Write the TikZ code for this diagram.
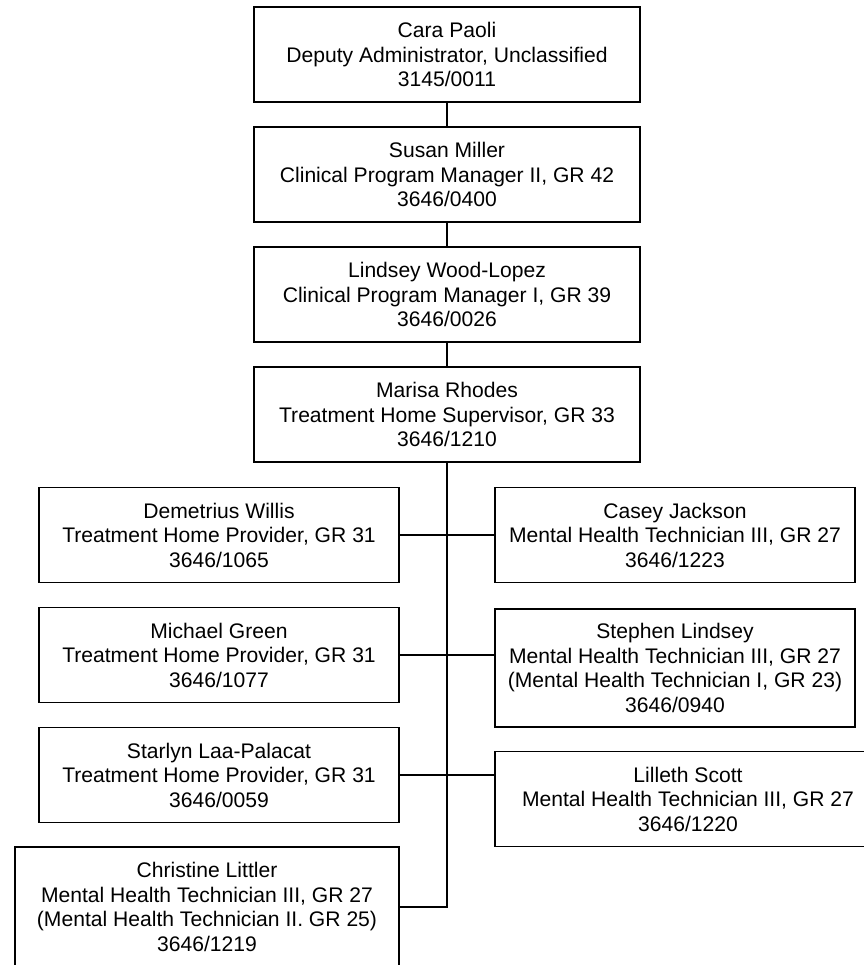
\documentclass[tikz,border=0pt]{standalone}
\usepackage{fontspec}
\setmainfont{Liberation Sans}
\begin{document}
\begin{tikzpicture}[x=1pt, y=-1pt, line join=miter, font=\fontsize{21.1}{24.5}\selectfont,
  post/.style={draw, line width=1.8pt, align=center, inner sep=0pt, minimum height=95pt},
  wide/.style={post, minimum width=386pt},
  half/.style={post, minimum width=360pt},
  link/.style={line width=1.8pt}]
	%%%%%%%%%%%%%%%%%%%%%%%%%%%%%%%%%
	\useasboundingbox (0,0) rectangle (863,965);
	%%%%%%%%%%%%%%%%%%%%%%%%%%%%%%%%%
	\node[wide] (cara) at (447,54.5) {Cara Paoli\\Deputy Administrator, Unclassified\\3145/0011};
	\node[wide] (susan) at (447,174.5) {Susan Miller\\Clinical Program Manager II, GR 42\\3646/0400};
	\node[wide] (lindsey) at (447,294.5) {Lindsey Wood-Lopez\\Clinical Program Manager I, GR 39\\3646/0026};
	\node[wide] (marisa) at (447,414.5) {Marisa Rhodes\\Treatment Home Supervisor, GR 33\\3646/1210};
	%%%%%%%%%%%%%%%%%%%%%%%%%%%%%%%%%
	\node[half] (demetrius) at (219,535) {Demetrius Willis\\Treatment Home Provider, GR 31\\3646/1065};
	\node[half] (michael) at (219,655) {Michael Green\\Treatment Home Provider, GR 31\\3646/1077};
	\node[half] (starlyn) at (219,775) {Starlyn Laa-Palacat\\Treatment Home Provider, GR 31\\3646/0059};
	\node[post, minimum width=384pt, minimum height=120pt] (christine) at (207,907) {Christine Littler\\Mental Health Technician III, GR 27\\(Mental Health Technician II. GR 25)\\3646/1219};
	%%%%%%%%%%%%%%%%%%%%%%%%%%%%%%%%%
	\node[half] (casey) at (675,535) {Casey Jackson\\Mental Health Technician III, GR 27\\3646/1223};
	\node[half, minimum height=118pt] (stephen) at (675,668) {Stephen Lindsey\\Mental Health Technician III, GR 27\\(Mental Health Technician I, GR 23)\\3646/0940};
	\node[wide] (lilleth) at (688,799) {Lilleth Scott\\Mental Health Technician III, GR 27\\3646/1220};
	%%%%%%%%%%%%%%%%%%%%%%%%%%%%%%%%%
	\coordinate (spine) at (447,907);
	\draw[link] (cara) -- (susan);
	\draw[link] (susan) -- (lindsey);
	\draw[link] (lindsey) -- (marisa);
	\draw[link] (marisa.south) -- (spine) -- (christine.east);
	\draw[link] (demetrius.east) -- (casey.west);
	\draw[link] (michael.east) -- (michael.east -| stephen.west);
	\draw[link] (starlyn.east) -- (starlyn.east -| lilleth.west);
	%%%%%%%%%%%%%%%%%%%%%%%%%%%%%%%%%
\end{tikzpicture}
\end{document}
